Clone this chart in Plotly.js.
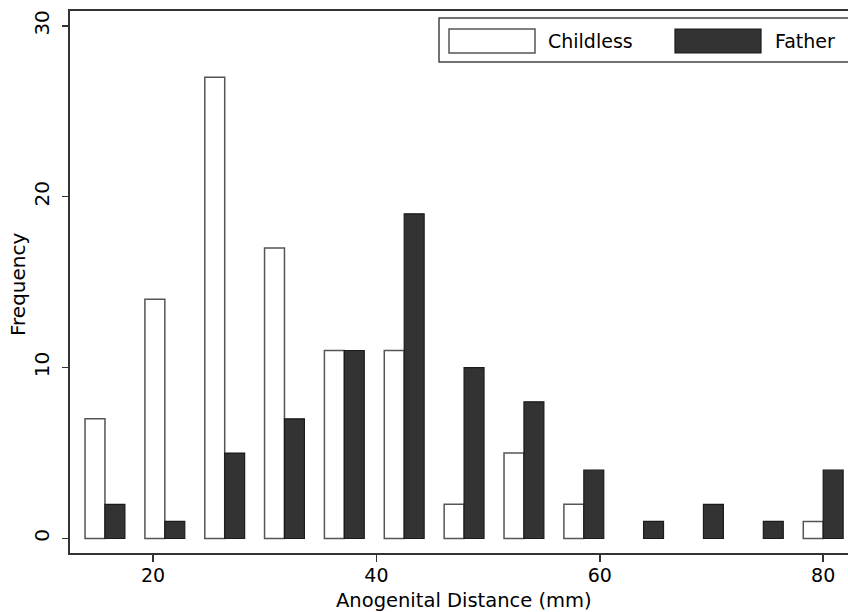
<!DOCTYPE html>
<html>
<head>
<meta charset="utf-8">
<script src="https://cdn.plot.ly/plotly-3.0.1.min.js"></script>
<style>html,body{margin:0;padding:0;background:#fff;overflow:hidden}</style>
</head>
<body>
<div id="chart" style="width:848px;height:612px"></div>
<script>
// Bin centers (mm) of the anogenital distance histogram
const binCenters = [15.70, 21.06, 26.42, 31.77, 37.13, 42.49, 47.85, 53.21, 58.57, 63.92, 69.28, 74.64, 80.00];
const childless = [7, 14, 27, 17, 11, 11, 2, 5, 2, 0, 0, 0, 1];
const father    = [2, 1, 5, 7, 11, 19, 10, 8, 4, 1, 2, 1, 4];
const seriesNames = ['Childless', 'Father'];
const xTicks = [20, 40, 60, 80];
const yTicks = [0, 10, 20, 30];
const xTitle = 'Anogenital Distance (mm)';
const yTitle = 'Frequency';

const FONT = 'DejaVu Sans, Verdana, sans-serif';
// empty bins are not drawn (no flat outline)
const noZero = a => a.map(v => v === 0 ? null : v);

const traces = [
  {type:'bar', x: binCenters, y: noZero(childless), name: seriesNames[0],
   marker:{color:'#ffffff', line:{color:'#555555', width:1.5}}, showlegend:false},
  {type:'bar', x: binCenters, y: noZero(father), name: seriesNames[1],
   marker:{color:'#333333', line:{color:'#1a1a1a', width:1.2}}, showlegend:false}
];

const L = 70, T = 11, PW = 778, PH = 542;
const px = x => (x - L) / PW;
const py = y => (T + PH - y) / PH;

const layout = {
  width:848, height:612,
  margin:{l:L, r:0, t:T, b:612 - T - PH},
  paper_bgcolor:'#ffffff', plot_bgcolor:'#ffffff',
  barmode:'group', bargap:0.333, bargroupgap:0,
  font:{family:FONT, size:19, color:'#000'},
  xaxis:{
    range:[12.57, 82.22], tickvals:xTicks, ticktext:xTicks.map(String),
    showline:true, linecolor:'#333', linewidth:2, mirror:true,
    ticks:'outside', ticklen:7, tickwidth:1.5, tickcolor:'#333',
    ticklabelstandoff:-3,
    showgrid:false, zeroline:false,
    tickfont:{family:FONT, size:19}
  },
  yaxis:{
    range:[-0.85, 30.87], tickvals:yTicks, ticktext:yTicks.map(String),
    showline:true, linecolor:'#333', linewidth:2,
    ticks:'outside', ticklen:6, tickwidth:1.5, tickcolor:'#333',
    tickangle:-90, ticklabelstandoff:5,
    showgrid:false, zeroline:false,
    tickfont:{family:FONT, size:20}
  },
  shapes:[
    {type:'rect', xref:'paper', yref:'paper', x0:px(439), x1:1.02, y0:py(62), y1:py(18),
     line:{color:'#444', width:1.5}, fillcolor:'#fff'},
    {type:'rect', xref:'paper', yref:'paper', x0:px(449), x1:px(535), y0:py(53), y1:py(29),
     line:{color:'#555', width:1.5}, fillcolor:'#fff'},
    {type:'rect', xref:'paper', yref:'paper', x0:px(675), x1:px(761), y0:py(53), y1:py(29),
     line:{color:'#1a1a1a', width:1.2}, fillcolor:'#333'}
  ],
  annotations:[
    {xref:'paper', yref:'paper', x:px(546), y:py(41), xanchor:'left', yanchor:'middle',
     text:seriesNames[0], showarrow:false, font:{family:FONT, size:19}},
    {xref:'paper', yref:'paper', x:px(773), y:py(41), xanchor:'left', yanchor:'middle',
     text:seriesNames[1], showarrow:false, font:{family:FONT, size:19}},
    {xref:'paper', yref:'paper', x:px(464), y:py(600.5), xanchor:'center', yanchor:'middle',
     text:xTitle, showarrow:false, font:{family:FONT, size:19.5}},
    {xref:'paper', yref:'paper', x:px(18), y:py(285), xanchor:'center', yanchor:'middle',
     text:yTitle, textangle:-90, showarrow:false, font:{family:FONT, size:20}}
  ]
};

Plotly.newPlot('chart', traces, layout, {displayModeBar:false, staticPlot:true});
</script>
</body>
</html>
